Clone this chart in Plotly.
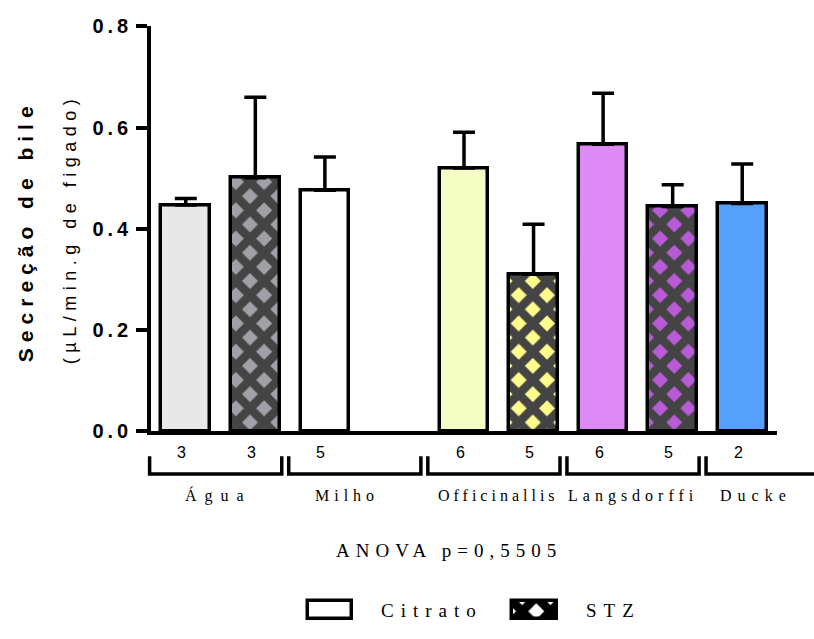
import plotly.graph_objects as go

# ---------------- data ----------------
groups = ["Água", "Milho", "Officinallis", "Langsdorffi", "Ducke"]
series_names = ["Citrato", "STZ"]
citrato_mean = [0.447, 0.476, 0.520, 0.567, 0.450]
citrato_err = [0.013, 0.066, 0.071, 0.101, 0.078]
citrato_n = [3, 5, 6, 6, 2]
stz_mean = [0.501, None, 0.310, 0.444, None]
stz_err = [0.159, None, 0.099, 0.043, None]
stz_n = [3, None, 5, 5, None]
ytick_vals = [0.0, 0.2, 0.4, 0.6, 0.8]
ytick_text = ["0.0", "0.2", "0.4", "0.6", "0.8"]
y_title = "Secreção de bile"
y_subtitle = "(µL/min.g de figado)"
anova_text = "ANOVA p=0,5505"

# ---------------- style ----------------
citrato_colors = ["#e8e8e8", "#ffffff", "#f4fdc3", "#de8af5", "#55a0fb"]
stz_colors = ["#a0a0a8", "#ffffff", "#fffc8c", "#b95ad6", "#ffffff"]
label_xshift = [-2, -13, 0, -5, -21]
label_spacing = [8, 5, 4, 5, 6]
SANS = "Liberation Sans, Arial, sans-serif"
SERIF = "Liberation Serif, Times New Roman, serif"

W, H = 814, 639
L, R, T, B = 151, 777, 16, 435
XR = (-0.5, 8.5)


def fx(px):
    return px / W


def fy(py):
    return 1 - py / H


def dx(x):
    return fx(L + (x - XR[0]) / (XR[1] - XR[0]) * (R - L))


def spaced(text, sp):
    return f'<span style="letter-spacing:{sp}px">{text}</span>'


x_cit = [2 * g for g in range(len(groups))]
x_stz = [2 * g + 1 for g in range(len(groups))]

fig = go.Figure()

fig.add_trace(go.Bar(
    x=x_cit, y=citrato_mean, width=0.7, name=series_names[0],
    marker=dict(color=citrato_colors, line=dict(color="black", width=3.5)),
    error_y=dict(type="data", array=citrato_err, arrayminus=[0] * len(groups),
                 symmetric=False, color="black", thickness=3.5, width=11),
    showlegend=False,
))
fig.add_trace(go.Bar(
    x=x_stz, y=stz_mean, width=0.7, name=series_names[1],
    marker=dict(color=stz_colors, line=dict(color="black", width=3.5),
                pattern=dict(shape="x", fgcolor="black", fgopacity=1, size=20,
                             solidity=0.68, fillmode="overlay")),
    error_y=dict(type="data", array=stz_err, arrayminus=[0] * len(groups),
                 symmetric=False, color="black", thickness=3.5, width=11),
    showlegend=False,
))

# legend boxes drawn as bars on their own tiny axes
legend_boxes = [(308, 352), (512, 557)]
by0, by1 = 611, 630
pad = 4
for i, (bx0, bx1) in enumerate(legend_boxes):
    ax = i + 2
    wpx = bx1 - bx0
    hpx = by1 - by0
    marker = dict(color="white", line=dict(color="black", width=3.5))
    if i == 1:
        marker["pattern"] = dict(shape="x", fgcolor="black", fgopacity=1, size=20,
                                 solidity=0.68, fillmode="overlay")
    fig.add_trace(go.Bar(x=[0], y=[1], width=1, marker=marker, showlegend=False,
                         xaxis=f"x{ax}", yaxis=f"y{ax}", hoverinfo="skip"))
    fig.update_layout(**{
        f"xaxis{ax}": dict(domain=[fx(bx0 - pad), fx(bx1 + pad)],
                           range=[-0.5 - pad / wpx, 0.5 + pad / wpx],
                           visible=False, anchor=f"y{ax}"),
        f"yaxis{ax}": dict(domain=[fy(by1 + pad), fy(by0 - pad)],
                           range=[-pad / hpx, 1 + pad / hpx],
                           visible=False, anchor=f"x{ax}"),
    })

fig.update_layout(
    width=W, height=H,
    margin=dict(l=0, r=0, t=0, b=0),
    paper_bgcolor="white", plot_bgcolor="white",
    bargap=0, barmode="overlay",
    xaxis=dict(domain=[fx(L), fx(R)], range=list(XR), showline=True, linecolor="black",
               linewidth=3.5, showgrid=False, zeroline=False, showticklabels=False,
               ticks="", anchor="y"),
    yaxis=dict(domain=[fy(B), fy(T)], range=[0, 0.8], showline=True, linecolor="black",
               linewidth=3.5, showgrid=False, zeroline=False, ticks="outside",
               ticklen=11, tickwidth=3.5, tickcolor="black",
               tickvals=ytick_vals, ticktext=[spaced(t, 4) for t in ytick_text],
               tickfont=dict(family=SANS, size=20, color="black", weight="bold"),
               anchor="x"),
)

annotations = []
shapes = []
# n labels
for xs, ns in ((x_cit, citrato_n), (x_stz, stz_n)):
    for x, n in zip(xs, ns):
        if n is None:
            continue
        annotations.append(dict(x=x, xref="x", y=fy(457), yref="paper", text=str(n),
                                showarrow=False, xshift=-4, yanchor="middle",
                                font=dict(family=SANS, size=16, color="black")))
# group brackets and labels
for g, name in enumerate(groups):
    x0 = dx(2 * g - 0.52)
    x1 = dx(2 * g + 1.38)
    yt, yb = fy(461), fy(479.5)
    shapes.append(dict(type="path", xref="paper", yref="paper",
                       path=f"M{x0},{yt} L{x0},{yb} L{x1},{yb} L{x1},{yt}",
                       line=dict(color="black", width=3.5)))
    annotations.append(dict(x=2 * g + 0.5, xref="x", y=fy(502), yref="paper",
                            text=spaced(name, label_spacing[g]), showarrow=False,
                            xshift=label_xshift[g], yanchor="middle",
                            font=dict(family=SERIF, size=16, color="black")))
# ANOVA
annotations.append(dict(x=fx(334), xref="paper", y=fy(559), yref="paper",
                        text=spaced(anova_text, 6), showarrow=False, xanchor="left",
                        yanchor="middle", font=dict(family=SERIF, size=19, color="black")))
# legend texts
for (bx0, bx1), nm in zip(legend_boxes, series_names):
    annotations.append(dict(x=fx(bx1 + 27), xref="paper", y=fy(621), yref="paper",
                            text=spaced(nm, 7), showarrow=False, xanchor="left",
                            yanchor="middle", font=dict(family=SERIF, size=19, color="black")))
# y-axis titles
annotations.append(dict(x=fx(25), xref="paper", y=fy(228), yref="paper",
                        text=spaced(y_title, 6), showarrow=False, textangle=-90,
                        xanchor="center", yanchor="middle",
                        font=dict(family=SANS, size=21, color="black", weight="bold")))
annotations.append(dict(x=fx(70), xref="paper", y=fy(226), yref="paper",
                        text=spaced(y_subtitle, 5.5), showarrow=False, textangle=-90,
                        xanchor="center", yanchor="middle",
                        font=dict(family=SANS, size=18, color="black")))

fig.update_layout(annotations=annotations, shapes=shapes)
fig.write_html("out.html")
